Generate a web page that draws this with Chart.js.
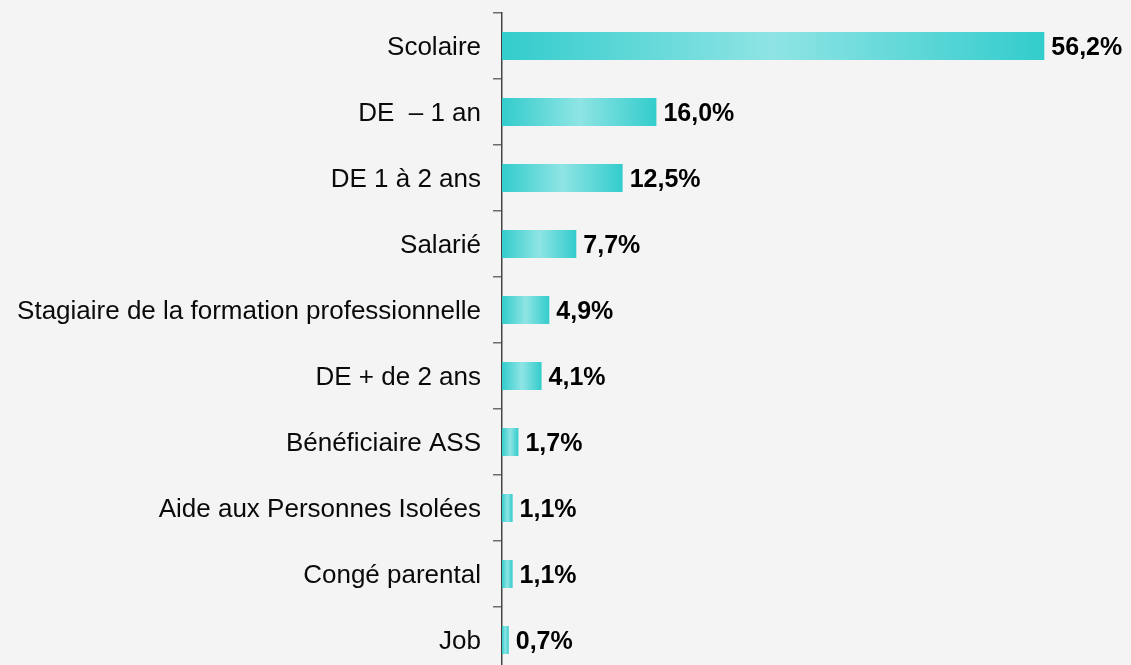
<!DOCTYPE html>
<html>
<head>
<meta charset="utf-8">
<script src="https://cdn.jsdelivr.net/npm/chart.js@4/dist/chart.umd.min.js"></script>
<style>
  html, body { margin: 0; padding: 0; background: #f4f4f4; overflow: hidden; }
  canvas { display: block; }
</style>
</head>
<body>
<canvas id="chart" width="1131" height="680"></canvas>
<script>
// categories and values (percent)
const categories = [
  'Scolaire', 'DE  \u2013 1 an', 'DE 1 à 2 ans', 'Salarié',
  'Stagiaire de la formation professionnelle', 'DE + de 2 ans',
  'Bénéficiaire ASS', 'Aide aux Personnes Isolées', 'Congé parental', 'Job'
];
const shares = [56.2, 16.0, 12.5, 7.7, 4.9, 4.1, 1.7, 1.1, 1.1, 0.7];

const EDGE = '#33cccc';
const MID  = '#8fe4e4';

// horizontal gradient per bar: dark at both ends, light in the middle
function barGradient(ctx) {
  const chart = ctx.chart;
  const x = chart.scales.x;
  if (!chart.chartArea || !x || ctx.type !== 'data') return EDGE;
  const x0 = x.getPixelForValue(0);
  const x1 = x.getPixelForValue(ctx.raw);
  if (!isFinite(x0) || !isFinite(x1) || x1 - x0 < 1) return EDGE;
  const g = chart.ctx.createLinearGradient(x0, 0, x1, 0);
  g.addColorStop(0, EDGE);
  g.addColorStop(0.5, MID);
  g.addColorStop(1, EDGE);
  return g;
}

const valueLabels = {
  id: 'valueLabels',
  afterDatasetsDraw(chart) {
    const c = chart.ctx;
    c.save();
    c.font = 'bold 25px "Liberation Sans", Arial, sans-serif';
    c.fillStyle = '#000';
    c.textAlign = 'left';
    c.textBaseline = 'middle';
    chart.getDatasetMeta(0).data.forEach((bar, i) => {
      c.fillText(shares[i].toFixed(1).replace('.', ',') + '%', bar.x + 7, bar.y + 2);
    });
    c.restore();
  }
};

new Chart(document.getElementById('chart'), {
  type: 'bar',
  data: {
    labels: categories,
    datasets: [{
      data: shares,
      backgroundColor: barGradient,
      borderWidth: 0,
      barPercentage: 0.85,
      categoryPercentage: 0.5,
    }]
  },
  options: {
    indexAxis: 'y',
    responsive: false,
    animation: false,
    layout: { padding: { left: 13, right: 50, top: 13, bottom: 7 } },
    plugins: { legend: { display: false }, tooltip: { enabled: false } },
    scales: {
      x: { display: false, min: 0, max: 60 },
      y: {
        afterFit: s => { s.width = 489; s.paddingTop = 0; s.paddingBottom = 0; },
        grid: {
          offset: true,
          drawOnChartArea: false,
          drawTicks: true,
          tickLength: 9,
          color: '#6e6e6e',
          lineWidth: 1.5,
        },
        border: { display: true, color: '#444', width: 1.5 },
        ticks: {
          color: '#0a0a0a',
          padding: 12,
          labelOffset: 2,
          font: { family: '"Liberation Sans", Arial, sans-serif', size: 26 },
        },
      },
    },
  },
  plugins: [valueLabels],
});
</script>
</body>
</html>
